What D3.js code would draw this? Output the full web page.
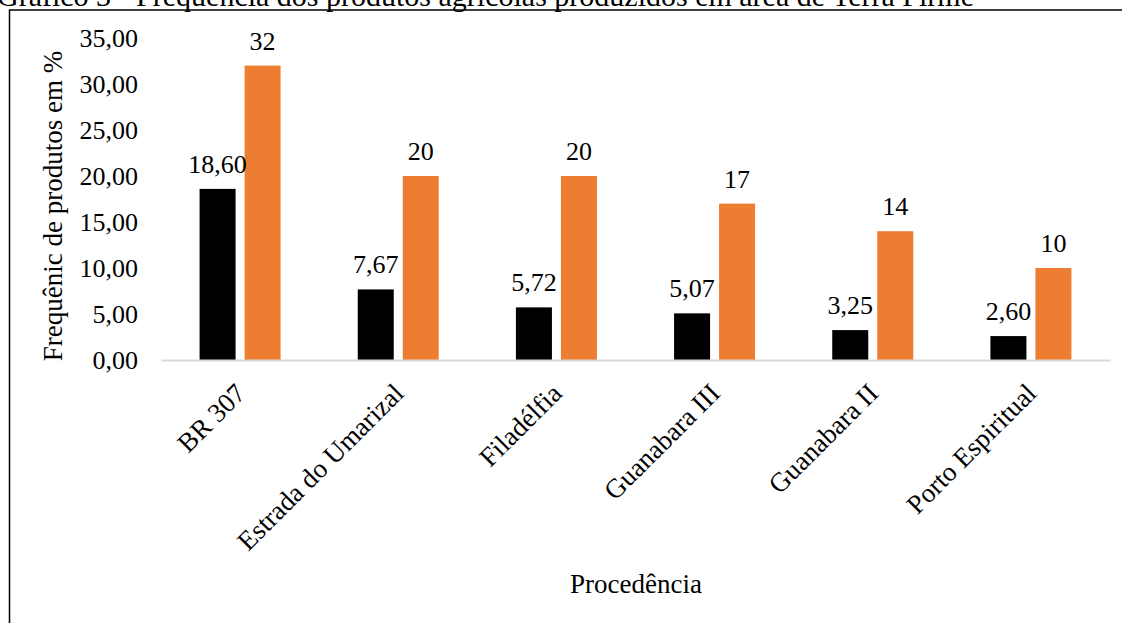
<!DOCTYPE html>
<html>
<head>
<meta charset="utf-8">
<script src="https://cdn.jsdelivr.net/npm/d3@7"></script>
<style>
  html, body { margin: 0; padding: 0; background: #fff; }
  svg { display: block; }
  text { font-family: "Liberation Serif", "Times New Roman", serif; fill: #000; }
</style>
</head>
<body>
<svg id="chart" width="1122" height="623"></svg>
<script>
// Procedência das amostras e frequências (%)
const categories = ["BR 307", "Estrada do Umarizal", "Filadélfia", "Guanabara III", "Guanabara II", "Porto Espiritual"];
const seriesA = [18.60, 7.67, 5.72, 5.07, 3.25, 2.60];
const seriesB = [32, 20, 20, 17, 14, 10];
const yTicks = [0, 5, 10, 15, 20, 25, 30, 35];

const title = "Gráfico 3 - Frequência dos produtos agrícolas produzidos em área de Terra Firme";
const yTitle = "Frequênic de produtos em %";
const xTitle = "Procedência";

const SERIF = "'Liberation Serif', 'Times New Roman', serif";
const svg = d3.select("#chart");

const plot = { left: 161, right: 1110, top: 38, bottom: 360 };
const FS = 26;   // tick and value labels
const FS2 = 27;  // axis titles and category names

const x0 = d3.scaleBand().domain(categories).range([plot.left, plot.right]).padding(0);
const groupW = 81;
const x1 = d3.scaleBand().domain(["a", "b"])
  .range([x0.bandwidth() / 2 - groupW / 2, x0.bandwidth() / 2 + groupW / 2])
  .paddingInner(0.2).paddingOuter(0);
const y = d3.scaleLinear().domain([0, 35]).range([plot.bottom, plot.top]);

const fmt2 = v => d3.format(".2f")(v).replace(".", ",");
const fmt0 = v => d3.format("d")(v);

// Caption above the frame (partly cut by the page edge)
svg.append("text")
  .attr("x", -3).attr("y", 6)
  .attr("font-family", SERIF)
  .attr("font-size", 30)
  .text(title);

// Frame
svg.append("path")
  .attr("d", "M9.5,623 L9.5,10 L1122,10")
  .attr("fill", "none").attr("stroke", "#000").attr("stroke-width", 1.5);

// Y axis tick labels
const yAxis = d3.axisLeft(y).tickValues(yTicks).tickFormat(fmt2).tickSize(0).tickPadding(0);
const gy = svg.append("g").attr("transform", `translate(138,0)`).call(yAxis);
gy.select(".domain").remove();
gy.attr("font-family", SERIF).attr("font-size", FS);
gy.selectAll("text")
  .attr("font-family", SERIF)
  .attr("font-size", FS)
  .attr("fill", "#000")
  .attr("dy", "0.34em");

// Bars
const groups = svg.append("g").selectAll("g").data(categories).join("g")
  .attr("transform", d => `translate(${x0(d)},0)`);

groups.append("rect")
  .attr("x", x1("a")).attr("width", x1.bandwidth())
  .attr("y", (d, i) => y(seriesA[i])).attr("height", (d, i) => y(0) - y(seriesA[i]))
  .attr("fill", "#000");
groups.append("rect")
  .attr("x", x1("b")).attr("width", x1.bandwidth())
  .attr("y", (d, i) => y(seriesB[i])).attr("height", (d, i) => y(0) - y(seriesB[i]))
  .attr("fill", "#ED7D31");

// Value labels
groups.append("text")
  .attr("text-anchor", "middle").attr("font-size", FS).attr("font-family", SERIF)
  .attr("x", x1("a") + x1.bandwidth() / 2)
  .attr("y", (d, i) => y(seriesA[i]) - 16)
  .text((d, i) => fmt2(seriesA[i]));
groups.append("text")
  .attr("text-anchor", "middle").attr("font-size", FS).attr("font-family", SERIF)
  .attr("x", x1("b") + x1.bandwidth() / 2)
  .attr("y", (d, i) => y(seriesB[i]) - 16)
  .text((d, i) => fmt0(seriesB[i]));

// X axis line
const xAxis = d3.axisBottom(x0).tickSize(0).tickFormat("");
const gx = svg.append("g").attr("transform", `translate(0,${plot.bottom})`).call(xAxis);
gx.select(".domain").attr("stroke", "#d9d9d9").attr("stroke-width", 2);

// Category labels, rotated
svg.append("g").selectAll("text").data(categories).join("text")
  .attr("text-anchor", "end").attr("font-size", FS2).attr("font-family", SERIF)
  .attr("transform", d => `translate(${x0(d) + x0.bandwidth() / 2 + 7},${plot.bottom + 35}) rotate(-45)`)
  .text(d => d);

// Axis titles
svg.append("text")
  .attr("text-anchor", "middle").attr("font-size", FS2).attr("font-family", SERIF)
  .attr("x", 636).attr("y", 593)
  .text(xTitle);
svg.append("text")
  .attr("text-anchor", "middle").attr("font-size", FS2).attr("font-family", SERIF)
  .attr("transform", `translate(62,206) rotate(-90)`)
  .text(yTitle);
</script>
</body>
</html>
